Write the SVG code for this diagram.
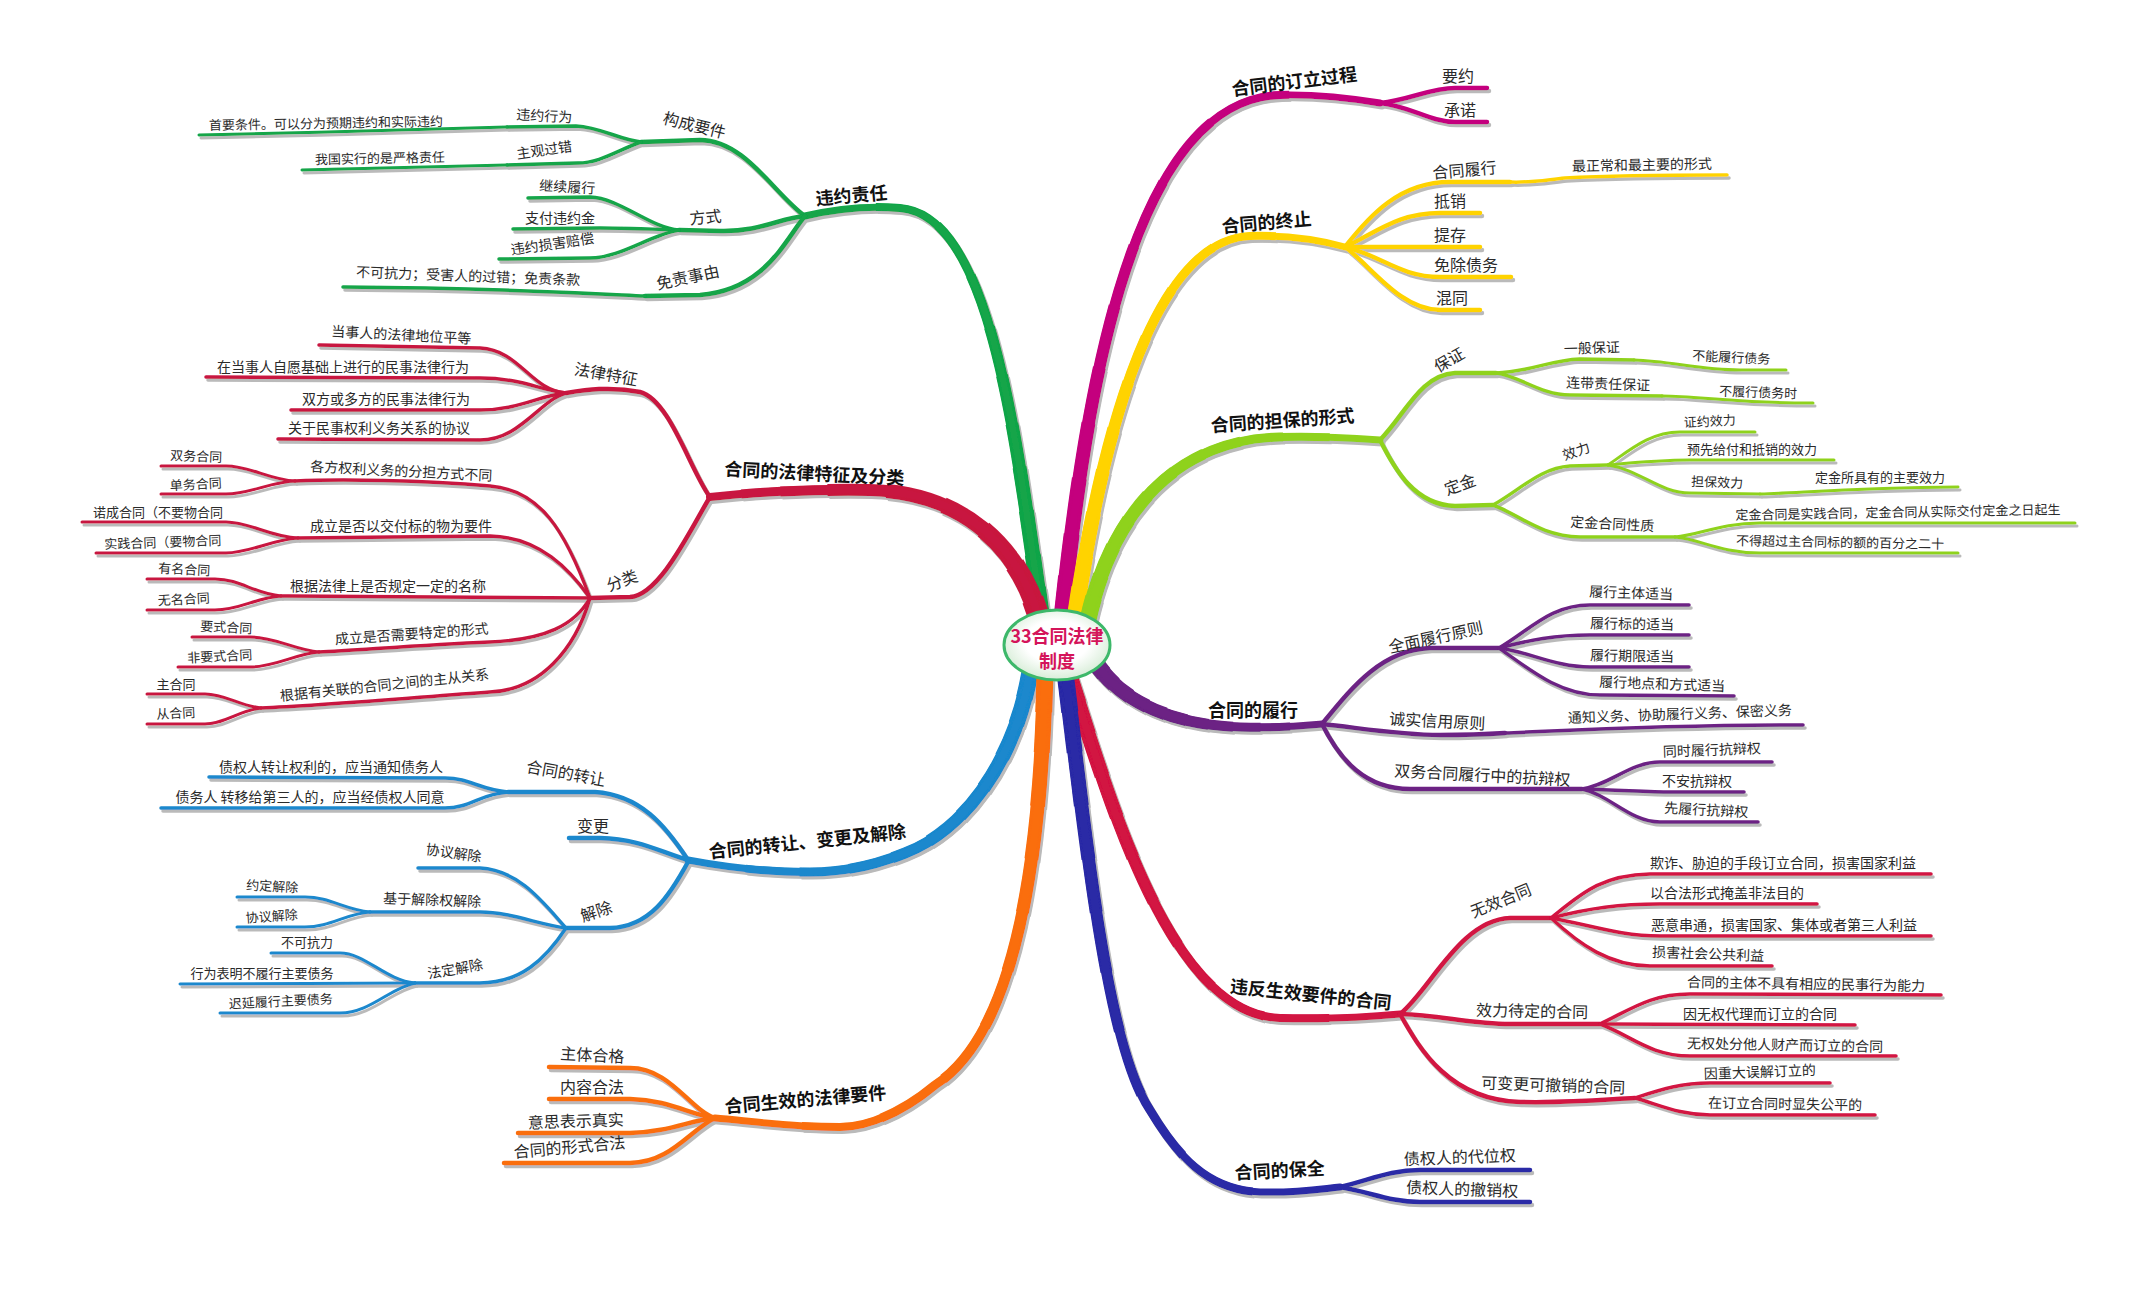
<svg xmlns="http://www.w3.org/2000/svg" width="2150" height="1289" viewBox="0 0 2150 1289">
<defs>
<style>
text{font-family:"Noto Sans CJK SC","Noto Sans CJK TC",sans-serif;fill:#2a2a2a;text-anchor:middle}
.t1{font-size:18px;font-weight:bold;fill:#111}
.t2{font-size:16px}
.t3{font-size:14px}
.t4{font-size:13px}
.root{font-size:18px;fill:#d4145a;font-weight:bold}
#connectors path,#connectors use{fill:none;stroke-linecap:round;stroke-linejoin:round}
#connectors use.k{stroke-linecap:butt}
.k0{stroke-width:22;stroke-dasharray:6 300}
.ka{stroke-width:20;stroke-dasharray:16 300}
.kb{stroke-width:18;stroke-dasharray:28 300}
.k1{stroke-width:17;stroke-dasharray:6 300}
.k2{stroke-width:16;stroke-dasharray:12 300}
.k3{stroke-width:15;stroke-dasharray:20 300}
.k4{stroke-width:14;stroke-dasharray:28 300}
.k5{stroke-width:13;stroke-dasharray:36 300}
.k6{stroke-width:12;stroke-dasharray:45 300}
.k7{stroke-width:11;stroke-dasharray:54 300}
.k8{stroke-width:10;stroke-dasharray:64 300}
.k9{stroke-width:9;stroke-dasharray:75 300}
.k10{stroke-width:8;stroke-dasharray:87 300}
.m4{stroke-width:7}
.c2{stroke-width:4.5}
.c3{stroke-width:3.5}
.c4{stroke-width:3}
</style>
<filter id="ds" filterUnits="userSpaceOnUse" x="0" y="0" width="2150" height="1289">
<feOffset in="SourceAlpha" dx="1.5" dy="2.5" result="o"/>
<feFlood flood-color="#a9a9a9" flood-opacity="0.8"/>
<feComposite in2="o" operator="in" result="s"/>
<feMerge><feMergeNode in="s"/><feMergeNode in="SourceGraphic"/></feMerge>
</filter>
<radialGradient id="rg" cx="50%" cy="45%" r="60%"><stop offset="0.5" stop-color="#ffffff"/><stop offset="1" stop-color="#cfe9cf"/></radialGradient>
<path id="mg" pathLength="100" fill="none" d="M1042,620 C1015,430 990,215 900,208 C860,205 830,210 805,216"/>
<path id="mc" pathLength="100" fill="none" d="M1040,622 C1020,545 960,492 870,490 C800,489 745,493 710,497"/>
<path id="mb" pathLength="100" fill="none" d="M1030,672 C1015,760 965,830 905,853 C875,865 845,872 810,872 C760,872 720,866 688,860"/>
<path id="mo" pathLength="100" fill="none" d="M1045,672 C1040,900 1005,1040 935,1085 C905,1110 870,1127 840,1127 C790,1127 750,1121 715,1118"/>
<path id="mm" pathLength="100" fill="none" d="M1062,618 C1085,400 1130,100 1280,95 C1320,94 1350,98 1380,103"/>
<path id="my" pathLength="100" fill="none" d="M1075,619 C1100,450 1150,240 1250,236 C1290,235 1320,240 1345,247"/>
<path id="ml" pathLength="100" fill="none" d="M1088,620 C1110,520 1170,440 1280,437 C1320,436 1350,438 1380,440"/>
<path id="mp" pathLength="100" fill="none" d="M1095,662 C1120,700 1170,725 1240,727 C1280,728 1300,726 1322,724"/>
<path id="mr" pathLength="100" fill="none" d="M1068,672 C1110,800 1170,1015 1280,1018 C1330,1019 1370,1017 1400,1014"/>
<path id="mn" pathLength="100" fill="none" d="M1065,672 C1090,880 1110,1050 1150,1110 C1180,1160 1210,1190 1260,1192 C1300,1193 1320,1189 1340,1187"/>
</defs>
<rect width="2150" height="1289" fill="#ffffff"/>
<g id="connectors" filter="url(#ds)">
<g id="conn-green" stroke="#12a548">
<use href="#mg" class="k k1"/><use href="#mg" class="k k2"/><use href="#mg" class="k k3"/><use href="#mg" class="k k4"/><use href="#mg" class="k k5"/><use href="#mg" class="k k6"/><use href="#mg" class="k k7"/><use href="#mg" class="k k8"/><use href="#mg" class="k k9"/><use href="#mg" class="k k10"/><use href="#mg" class="m4"/>
<path class="c2" d="M805,216 C775,195 745,140 700,140 L641,142"/>
<path class="c3" d="M641,142 C620,140 600,127 576,126 L507,127"/>
<path class="c4" d="M507,127 C470,128 300,133 199,135"/>
<path class="c3" d="M641,142 C618,150 600,163 578,163 L507,165"/>
<path class="c4" d="M507,165 L302,170"/>
<path class="c2" d="M805,216 C780,218 760,232 720,231 L679,230"/>
<path class="c3" d="M679,230 C650,228 620,198 590,197 L528,198"/>
<path class="c3" d="M679,230 C650,229 620,228 600,228 L513,229"/>
<path class="c3" d="M679,230 C650,235 620,258 590,258 L499,259"/>
<path class="c2" d="M805,216 C785,240 765,290 700,295 L645,296"/>
<path class="c3" d="M645,296 C600,294 500,288 343,287"/>
</g>
<g id="conn-crimson" stroke="#c8163f">
<use href="#mc" class="k k0"/><use href="#mc" class="k ka"/><use href="#mc" class="k kb"/><use href="#mc" class="k k4" style="stroke-dasharray:40 300;stroke-width:16"/><use href="#mc" class="k k6" style="stroke-dasharray:55 300;stroke-width:14"/><use href="#mc" class="k k8" style="stroke-dasharray:70 300;stroke-width:12"/><use href="#mc" class="k k9" style="stroke-dasharray:82 300;stroke-width:10"/><use href="#mc" class="k k10" style="stroke-dasharray:92 300;stroke-width:9"/><use href="#mc" class="m4" style="stroke-width:8"/>
<path class="c2" d="M710,497 C690,470 670,400 640,392 C610,386 585,390 566,393"/>
<path class="c3" d="M566,393 C530,390 520,350 480,348 L319,345"/>
<path class="c3" d="M566,393 C540,390 520,378 480,378 L206,377"/>
<path class="c3" d="M566,393 C540,395 520,410 480,410 L291,410"/>
<path class="c3" d="M566,393 C540,400 520,440 480,440 L278,439"/>
<path class="c2" d="M710,497 C690,530 660,595 630,597 L590,598"/>
<path class="c3" d="M590,598 C565,530 540,490 490,486 C420,480 340,479 295,481"/>
<path class="c4" d="M295,481 C270,480 250,466 226,466 L161,466"/>
<path class="c4" d="M295,481 C270,482 250,494 226,494 L161,494"/>
<path class="c3" d="M590,598 C570,570 540,537 490,536 L298,538"/>
<path class="c4" d="M298,538 C270,537 250,522 226,522 L82,522"/>
<path class="c4" d="M298,538 C270,540 250,553 226,553 L96,553"/>
<path class="c3" d="M590,598 C520,597 400,596 281,596"/>
<path class="c4" d="M281,596 C255,594 240,579 215,579 L147,579"/>
<path class="c4" d="M281,596 C255,598 240,610 215,610 L147,610"/>
<path class="c3" d="M590,598 C575,625 545,640 490,642 C420,645 360,650 319,652"/>
<path class="c4" d="M319,652 C295,650 275,637 250,637 L192,637"/>
<path class="c4" d="M319,652 C295,654 275,667 250,667 L178,667"/>
<path class="c3" d="M590,598 C575,650 540,690 490,692 C420,697 320,706 261,708"/>
<path class="c4" d="M261,708 C240,706 225,694 205,694 L147,694"/>
<path class="c4" d="M261,708 C240,710 225,724 205,724 L147,724"/>
</g>
<g id="conn-blue" stroke="#1b88cd">
<use href="#mb" class="k k1"/><use href="#mb" class="k k2"/><use href="#mb" class="k k3"/><use href="#mb" class="k k4"/><use href="#mb" class="k k5"/><use href="#mb" class="k k6"/><use href="#mb" class="k k7"/><use href="#mb" class="k k8"/><use href="#mb" class="k k9"/><use href="#mb" class="k k10"/><use href="#mb" class="m4"/>
<path class="c2" d="M688,860 C665,825 640,795 595,792 L508,792"/>
<path class="c3" d="M508,792 C480,790 470,778 445,778 L209,777"/>
<path class="c3" d="M508,792 C480,794 470,808 445,808 L161,808"/>
<path class="c2" d="M688,860 C660,852 640,839 600,838 L569,838"/>
<path class="c2" d="M688,862 C670,895 650,927 610,928 L566,928"/>
<path class="c3" d="M566,928 C545,905 520,870 480,868 L418,868"/>
<path class="c3" d="M566,928 C540,925 510,912 480,912 L370,912"/>
<path class="c4" d="M370,912 C345,910 330,897 305,897 L237,897"/>
<path class="c4" d="M370,912 C345,914 330,927 305,927 L237,927"/>
<path class="c3" d="M566,928 C545,960 520,983 480,983 L415,983"/>
<path class="c4" d="M415,983 C385,980 365,953 340,953 L271,953"/>
<path class="c4" d="M415,983 L180,984"/>
<path class="c4" d="M415,983 C390,988 370,1013 340,1013 L220,1013"/>
</g>
<g id="conn-orange" stroke="#fa6e0c">
<use href="#mo" class="k k1"/><use href="#mo" class="k k2"/><use href="#mo" class="k k3"/><use href="#mo" class="k k4"/><use href="#mo" class="k k5"/><use href="#mo" class="k k6"/><use href="#mo" class="k k7"/><use href="#mo" class="k k8"/><use href="#mo" class="k k9"/><use href="#mo" class="k k10"/><use href="#mo" class="m4"/>
<path class="c2" d="M715,1118 C690,1110 670,1068 630,1068 L549,1067"/>
<path class="c2" d="M715,1118 C690,1115 670,1100 630,1099 L549,1099"/>
<path class="c2" d="M715,1118 C690,1120 670,1132 630,1133 L518,1133"/>
<path class="c2" d="M715,1118 C690,1130 670,1163 630,1163 L504,1163"/>
</g>
<g id="conn-magenta" stroke="#c4037e">
<use href="#mm" class="k k1"/><use href="#mm" class="k k2"/><use href="#mm" class="k k3"/><use href="#mm" class="k k4"/><use href="#mm" class="k k5"/><use href="#mm" class="k k6"/><use href="#mm" class="k k7"/><use href="#mm" class="k k8"/><use href="#mm" class="k k9"/><use href="#mm" class="k k10"/><use href="#mm" class="m4"/>
<path class="c2" d="M1380,103 C1410,100 1430,88 1455,88 L1487,88"/>
<path class="c2" d="M1380,103 C1410,106 1430,122 1455,122 L1487,122"/>
</g>
<g id="conn-yellow" stroke="#ffd300">
<use href="#my" class="k k1"/><use href="#my" class="k k2"/><use href="#my" class="k k3"/><use href="#my" class="k k4"/><use href="#my" class="k k5"/><use href="#my" class="k k6"/><use href="#my" class="k k7"/><use href="#my" class="k k8"/><use href="#my" class="k k9"/><use href="#my" class="k k10"/><use href="#my" class="m4"/>
<path class="c2" d="M1345,247 C1370,215 1400,182 1450,182 L1510,182"/>
<path class="c3" d="M1510,182 C1530,183 1545,180 1565,178 C1620,175 1680,175 1727,175"/>
<path class="c2" d="M1345,247 C1380,230 1400,213 1440,213 L1480,213"/>
<path class="c2" d="M1345,247 C1380,247 1420,247 1480,247"/>
<path class="c2" d="M1345,247 C1380,255 1400,277 1440,277 L1511,277"/>
<path class="c2" d="M1345,247 C1370,265 1400,310 1440,310 L1480,310"/>
</g>
<g id="conn-lime" stroke="#8fd21d">
<use href="#ml" class="k k1"/><use href="#ml" class="k k2"/><use href="#ml" class="k k3"/><use href="#ml" class="k k4"/><use href="#ml" class="k k5"/><use href="#ml" class="k k6"/><use href="#ml" class="k k7"/><use href="#ml" class="k k8"/><use href="#ml" class="k k9"/><use href="#ml" class="k k10"/><use href="#ml" class="m4"/>
<path class="c2" d="M1380,440 C1405,415 1420,375 1455,373 L1496,373"/>
<path class="c3" d="M1496,373 C1530,372 1550,360 1580,359 L1634,360"/>
<path class="c4" d="M1634,360 C1670,361 1700,370 1740,370 L1786,370"/>
<path class="c3" d="M1496,373 C1520,376 1540,395 1570,395 L1662,396"/>
<path class="c4" d="M1662,396 C1700,396 1730,403 1813,403"/>
<path class="c2" d="M1380,440 C1395,470 1415,505 1455,506 L1493,505"/>
<path class="c3" d="M1493,505 C1520,490 1540,468 1570,466 L1608,465"/>
<path class="c4" d="M1608,465 C1630,450 1650,432 1680,432 L1755,432"/>
<path class="c4" d="M1608,465 C1640,462 1660,460 1690,460 L1834,460"/>
<path class="c4" d="M1608,465 C1640,470 1660,493 1690,493 L1760,494"/>
<path class="c4" d="M1760,494 C1800,493 1850,488 1958,487"/>
<path class="c3" d="M1493,505 C1520,515 1540,536 1580,537 L1675,537"/>
<path class="c4" d="M1675,537 C1700,535 1720,523 1760,523 L2075,523"/>
<path class="c4" d="M1675,537 C1700,539 1720,553 1760,553 L1958,553"/>
</g>
<g id="conn-purple" stroke="#6c2284">
<use href="#mp" class="k k1"/><use href="#mp" class="k k2"/><use href="#mp" class="k k3"/><use href="#mp" class="k k4"/><use href="#mp" class="k k5"/><use href="#mp" class="k k6"/><use href="#mp" class="k k7"/><use href="#mp" class="k k8"/><use href="#mp" class="k k9"/><use href="#mp" class="k k10"/><use href="#mp" class="m4"/>
<path class="c2" d="M1322,724 C1350,690 1380,650 1430,648 L1499,648"/>
<path class="c3" d="M1499,648 C1530,630 1550,605 1590,605 L1689,605"/>
<path class="c3" d="M1499,648 C1530,640 1555,635 1590,635 L1689,635"/>
<path class="c3" d="M1499,648 C1530,652 1555,667 1590,667 L1689,667"/>
<path class="c3" d="M1499,648 C1530,670 1560,695 1600,695 L1734,696"/>
<path class="c2" d="M1322,724 C1360,728 1400,735 1440,735 C1470,735 1490,734 1505,733"/>
<path class="c3" d="M1505,733 C1560,731 1650,725 1803,725"/>
<path class="c2" d="M1322,724 C1340,760 1365,789 1410,789 L1582,789"/>
<path class="c3" d="M1582,789 C1610,785 1630,762 1660,762 L1772,762"/>
<path class="c3" d="M1582,789 C1620,790 1650,792 1670,792 L1744,792"/>
<path class="c3" d="M1582,789 C1610,795 1630,822 1660,822 L1758,822"/>
</g>
<g id="conn-red" stroke="#d21342">
<use href="#mr" class="k k1"/><use href="#mr" class="k k2"/><use href="#mr" class="k k3"/><use href="#mr" class="k k4"/><use href="#mr" class="k k5"/><use href="#mr" class="k k6"/><use href="#mr" class="k k7"/><use href="#mr" class="k k8"/><use href="#mr" class="k k9"/><use href="#mr" class="k k10"/><use href="#mr" class="m4"/>
<path class="c2" d="M1400,1014 C1430,990 1460,920 1510,918 L1551,918"/>
<path class="c3" d="M1551,918 C1580,895 1600,875 1650,874 L1931,874"/>
<path class="c3" d="M1551,918 C1590,908 1620,904 1660,904 L1817,904"/>
<path class="c3" d="M1551,918 C1590,925 1620,936 1660,936 L1931,936"/>
<path class="c3" d="M1551,918 C1580,945 1610,966 1650,966 L1772,966"/>
<path class="c2" d="M1400,1014 C1440,1015 1470,1024 1510,1024 L1600,1024"/>
<path class="c3" d="M1600,1024 C1630,1010 1650,994 1690,994 L1941,995"/>
<path class="c3" d="M1600,1024 L1855,1025"/>
<path class="c3" d="M1600,1024 C1630,1035 1650,1056 1690,1056 L1896,1056"/>
<path class="c2" d="M1400,1014 C1420,1050 1450,1100 1520,1102 C1580,1103 1610,1099 1635,1098"/>
<path class="c3" d="M1635,1098 C1660,1090 1680,1083 1710,1083 L1830,1083"/>
<path class="c3" d="M1635,1098 C1660,1105 1680,1115 1710,1115 L1875,1115"/>
</g>
<g id="conn-navy" stroke="#2a2aa6">
<use href="#mn" class="k k1"/><use href="#mn" class="k k2"/><use href="#mn" class="k k3"/><use href="#mn" class="k k4"/><use href="#mn" class="k k5"/><use href="#mn" class="k k6"/><use href="#mn" class="k k7"/><use href="#mn" class="k k8"/><use href="#mn" class="k k9"/><use href="#mn" class="k k10"/><use href="#mn" class="m4"/>
<path class="c2" d="M1340,1187 C1370,1180 1390,1170 1420,1170 L1530,1170"/>
<path class="c2" d="M1340,1187 C1370,1192 1390,1202 1420,1202 L1530,1202"/>
</g>
</g>
<g id="node-root">
<ellipse cx="1057" cy="645" rx="53" ry="35" fill="url(#rg)" stroke="#3db86a" stroke-width="3"/>
<text class="root" x="1057" y="643">33合同法律</text>
<text class="root" x="1057" y="668">制度</text>
</g>
<g id="nodes-green">
<g id="n-wyzr"><text class="t1" x="852" y="202" transform="rotate(-5 852 202)">违约责任</text></g>
<g id="n-gcyj"><text class="t2" x="693" y="131" transform="rotate(14 693 131)">构成要件</text></g>
<g id="n-wyxw"><text class="t3" x="544" y="121" transform="rotate(3 544 121)">违约行为</text></g>
<g id="n-syt"><text class="t4" x="326" y="128" transform="rotate(-1 326 128)">首要条件。可以分为预期违约和实际违约</text></g>
<g id="n-zggc"><text class="t3" x="545" y="155" transform="rotate(-8 545 155)">主观过错</text></g>
<g id="n-wgsx"><text class="t4" x="380" y="163" transform="rotate(-1 380 163)">我国实行的是严格责任</text></g>
<g id="n-fs"><text class="t2" x="706" y="223" transform="rotate(-5 706 223)">方式</text></g>
<g id="n-jxlx"><text class="t3" x="567" y="192" transform="rotate(3 567 192)">继续履行</text></g>
<g id="n-zfwyj"><text class="t3" x="560" y="223">支付违约金</text></g>
<g id="n-wysh"><text class="t3" x="553" y="249" transform="rotate(-8 553 249)">违约损害赔偿</text></g>
<g id="n-mzsy"><text class="t2" x="689" y="283" transform="rotate(-12 689 283)">免责事由</text></g>
<g id="n-bkkl"><text class="t3" x="468" y="281" transform="rotate(2 468 281)">不可抗力；受害人的过错；免责条款</text></g>
</g>
<g id="nodes-crimson">
<g id="n-tzfl"><text class="t1" x="814" y="480" transform="rotate(3 814 480)">合同的法律特征及分类</text></g>
<g id="n-fltz"><text class="t2" x="605" y="380" transform="rotate(10 605 380)">法律特征</text></g>
<g id="n-dsr"><text class="t3" x="401" y="340" transform="rotate(3 401 340)">当事人的法律地位平等</text></g>
<g id="n-zyjc"><text class="t3" x="343" y="372">在当事人自愿基础上进行的民事法律行为</text></g>
<g id="n-sfdf"><text class="t3" x="386" y="404">双方或多方的民事法律行为</text></g>
<g id="n-gymsq"><text class="t3" x="379" y="433">关于民事权利义务关系的协议</text></g>
<g id="n-fl"><text class="t2" x="624" y="586" transform="rotate(-20 624 586)">分类</text></g>
<g id="n-gfql"><text class="t3" x="401" y="476" transform="rotate(3 401 476)">各方权利义务的分担方式不同</text></g>
<g id="n-swht"><text class="t4" x="196" y="461" transform="rotate(2 196 461)">双务合同</text></g>
<g id="n-dwht"><text class="t4" x="196" y="489" transform="rotate(-3 196 489)">单务合同</text></g>
<g id="n-clsf"><text class="t3" x="401" y="531">成立是否以交付标的物为要件</text></g>
<g id="n-ncht"><text class="t4" x="158" y="517">诺成合同（不要物合同</text></g>
<g id="n-sjht"><text class="t4" x="163" y="547" transform="rotate(-2 163 547)">实践合同（要物合同</text></g>
<g id="n-gjfl"><text class="t3" x="388" y="591">根据法律上是否规定一定的名称</text></g>
<g id="n-ymht"><text class="t4" x="184" y="574" transform="rotate(3 184 574)">有名合同</text></g>
<g id="n-wmht"><text class="t4" x="184" y="604" transform="rotate(-3 184 604)">无名合同</text></g>
<g id="n-clxs"><text class="t3" x="412" y="639" transform="rotate(-4 412 639)">成立是否需要特定的形式</text></g>
<g id="n-ysht"><text class="t4" x="226" y="632" transform="rotate(3 226 632)">要式合同</text></g>
<g id="n-fysht"><text class="t4" x="220" y="661" transform="rotate(-3 220 661)">非要式合同</text></g>
<g id="n-zcgx"><text class="t3" x="385" y="690" transform="rotate(-6 385 690)">根据有关联的合同之间的主从关系</text></g>
<g id="n-zht"><text class="t4" x="176" y="689">主合同</text></g>
<g id="n-cht"><text class="t4" x="176" y="718" transform="rotate(-3 176 718)">从合同</text></g>
</g>
<g id="nodes-blue">
<g id="n-zrbg"><text class="t1" x="808" y="848" transform="rotate(-6 808 848)">合同的转让、变更及解除</text></g>
<g id="n-htzr"><text class="t2" x="565" y="779" transform="rotate(10 565 779)">合同的转让</text></g>
<g id="n-zqr"><text class="t3" x="331" y="772">债权人转让权利的，应当通知债务人</text></g>
<g id="n-zwr"><text class="t3" x="310" y="802">债务人 转移给第三人的，应当经债权人同意</text></g>
<g id="n-bg"><text class="t2" x="593" y="832">变更</text></g>
<g id="n-jc"><text class="t2" x="598" y="917" transform="rotate(-18 598 917)">解除</text></g>
<g id="n-xyjc1"><text class="t3" x="453" y="858" transform="rotate(8 453 858)">协议解除</text></g>
<g id="n-jyjcq"><text class="t3" x="432" y="905" transform="rotate(2 432 905)">基于解除权解除</text></g>
<g id="n-ydjc"><text class="t4" x="272" y="891" transform="rotate(3 272 891)">约定解除</text></g>
<g id="n-xyjc2"><text class="t4" x="272" y="921" transform="rotate(-4 272 921)">协议解除</text></g>
<g id="n-fdjc"><text class="t3" x="456" y="974" transform="rotate(-10 456 974)">法定解除</text></g>
<g id="n-bkkl2"><text class="t4" x="307" y="947">不可抗力</text></g>
<g id="n-xwbm"><text class="t4" x="262" y="978">行为表明不履行主要债务</text></g>
<g id="n-cylx"><text class="t4" x="281" y="1006" transform="rotate(-3 281 1006)">迟延履行主要债务</text></g>
</g>
<g id="nodes-orange">
<g id="n-sxyj"><text class="t1" x="806" y="1106" transform="rotate(-5 806 1106)">合同生效的法律要件</text></g>
<g id="n-zthg"><text class="t2" x="592" y="1061" transform="rotate(3 592 1061)">主体合格</text></g>
<g id="n-nrhf"><text class="t2" x="592" y="1093">内容合法</text></g>
<g id="n-ysbs"><text class="t2" x="576" y="1127" transform="rotate(-2 576 1127)">意思表示真实</text></g>
<g id="n-xshf"><text class="t2" x="570" y="1153" transform="rotate(-5 570 1153)">合同的形式合法</text></g>
</g>
<g id="nodes-magenta">
<g id="n-dlgc"><text class="t1" x="1295" y="88" transform="rotate(-7 1295 88)">合同的订立过程</text></g>
<g id="n-yy"><text class="t2" x="1458" y="82">要约</text></g>
<g id="n-cn"><text class="t2" x="1460" y="116">承诺</text></g>
</g>
<g id="nodes-yellow">
<g id="n-zz"><text class="t1" x="1267" y="229" transform="rotate(-5 1267 229)">合同的终止</text></g>
<g id="n-htlx"><text class="t2" x="1465" y="176" transform="rotate(-5 1465 176)">合同履行</text></g>
<g id="n-zzc"><text class="t3" x="1642" y="170" transform="rotate(-1 1642 170)">最正常和最主要的形式</text></g>
<g id="n-dx"><text class="t2" x="1450" y="207">抵销</text></g>
<g id="n-tc"><text class="t2" x="1450" y="241">提存</text></g>
<g id="n-mczw"><text class="t2" x="1466" y="271">免除债务</text></g>
<g id="n-ht"><text class="t2" x="1452" y="304">混同</text></g>
</g>
<g id="nodes-lime">
<g id="n-dbxs"><text class="t1" x="1283" y="427" transform="rotate(-4 1283 427)">合同的担保的形式</text></g>
<g id="n-bz"><text class="t2" x="1452" y="365" transform="rotate(-30 1452 365)">保证</text></g>
<g id="n-ybbz"><text class="t3" x="1592" y="353" transform="rotate(-2 1592 353)">一般保证</text></g>
<g id="n-bnlx"><text class="t4" x="1731" y="362" transform="rotate(3 1731 362)">不能履行债务</text></g>
<g id="n-ldzr"><text class="t3" x="1608" y="389" transform="rotate(2 1608 389)">连带责任保证</text></g>
<g id="n-blxz"><text class="t4" x="1758" y="397" transform="rotate(2 1758 397)">不履行债务时</text></g>
<g id="n-dj"><text class="t2" x="1462" y="490" transform="rotate(-20 1462 490)">定金</text></g>
<g id="n-xl"><text class="t3" x="1578" y="456" transform="rotate(-20 1578 456)">效力</text></g>
<g id="n-zyxl"><text class="t4" x="1710" y="426" transform="rotate(-3 1710 426)">证约效力</text></g>
<g id="n-yxgf"><text class="t4" x="1752" y="454">预先给付和抵销的效力</text></g>
<g id="n-dbxl"><text class="t4" x="1717" y="487" transform="rotate(2 1717 487)">担保效力</text></g>
<g id="n-djsj"><text class="t4" x="1880" y="482">定金所具有的主要效力</text></g>
<g id="n-djxz"><text class="t3" x="1612" y="529" transform="rotate(3 1612 529)">定金合同性质</text></g>
<g id="n-djsjht"><text class="t4" x="1898" y="517" transform="rotate(-1 1898 517)">定金合同是实践合同，定金合同从实际交付定金之日起生</text></g>
<g id="n-bdcg"><text class="t4" x="1840" y="547" transform="rotate(1 1840 547)">不得超过主合同标的额的百分之二十</text></g>
</g>
<g id="nodes-purple">
<g id="n-lx"><text class="t1" x="1253" y="717">合同的履行</text></g>
<g id="n-qmlx"><text class="t2" x="1437" y="643" transform="rotate(-12 1437 643)">全面履行原则</text></g>
<g id="n-lxzt"><text class="t3" x="1631" y="598" transform="rotate(2 1631 598)">履行主体适当</text></g>
<g id="n-lxbd"><text class="t3" x="1632" y="629" transform="rotate(1 1632 629)">履行标的适当</text></g>
<g id="n-lxqx"><text class="t3" x="1632" y="661" transform="rotate(1 1632 661)">履行期限适当</text></g>
<g id="n-lxdd"><text class="t3" x="1662" y="689" transform="rotate(2 1662 689)">履行地点和方式适当</text></g>
<g id="n-cxxy"><text class="t2" x="1437" y="727" transform="rotate(3 1437 727)">诚实信用原则</text></g>
<g id="n-tzyw"><text class="t3" x="1680" y="719" transform="rotate(-2 1680 719)">通知义务、协助履行义务、保密义务</text></g>
<g id="n-kbq"><text class="t2" x="1482" y="781" transform="rotate(3 1482 781)">双务合同履行中的抗辩权</text></g>
<g id="n-tslx"><text class="t3" x="1712" y="755" transform="rotate(-2 1712 755)">同时履行抗辩权</text></g>
<g id="n-bakb"><text class="t3" x="1697" y="786">不安抗辩权</text></g>
<g id="n-xlx"><text class="t3" x="1706" y="815" transform="rotate(3 1706 815)">先履行抗辩权</text></g>
</g>
<g id="nodes-red">
<g id="n-wfsx"><text class="t1" x="1310" y="1001" transform="rotate(6 1310 1001)">违反生效要件的合同</text></g>
<g id="n-wxht"><text class="t2" x="1503" y="906" transform="rotate(-22 1503 906)">无效合同</text></g>
<g id="n-qz"><text class="t3" x="1783" y="868">欺诈、胁迫的手段订立合同，损害国家利益</text></g>
<g id="n-yhf"><text class="t3" x="1727" y="898">以合法形式掩盖非法目的</text></g>
<g id="n-eycl"><text class="t3" x="1784" y="930">恶意串通，损害国家、集体或者第三人利益</text></g>
<g id="n-shsh"><text class="t3" x="1708" y="959" transform="rotate(2 1708 959)">损害社会公共利益</text></g>
<g id="n-xldd"><text class="t2" x="1532" y="1017" transform="rotate(1 1532 1017)">效力待定的合同</text></g>
<g id="n-ztbj"><text class="t3" x="1806" y="989" transform="rotate(1 1806 989)">合同的主体不具有相应的民事行为能力</text></g>
<g id="n-wqdl"><text class="t3" x="1760" y="1019">因无权代理而订立的合同</text></g>
<g id="n-wqcf"><text class="t3" x="1785" y="1050" transform="rotate(1 1785 1050)">无权处分他人财产而订立的合同</text></g>
<g id="n-kbg"><text class="t2" x="1553" y="1091" transform="rotate(2 1553 1091)">可变更可撤销的合同</text></g>
<g id="n-zdwj"><text class="t3" x="1760" y="1077" transform="rotate(-2 1760 1077)">因重大误解订立的</text></g>
<g id="n-xsgp"><text class="t3" x="1785" y="1109" transform="rotate(1 1785 1109)">在订立合同时显失公平的</text></g>
</g>
<g id="nodes-navy">
<g id="n-bq"><text class="t1" x="1280" y="1177" transform="rotate(-3 1280 1177)">合同的保全</text></g>
<g id="n-dwq"><text class="t2" x="1460" y="1163" transform="rotate(-2 1460 1163)">债权人的代位权</text></g>
<g id="n-cxq"><text class="t2" x="1462" y="1195" transform="rotate(2 1462 1195)">债权人的撤销权</text></g>
</g>
</svg>
